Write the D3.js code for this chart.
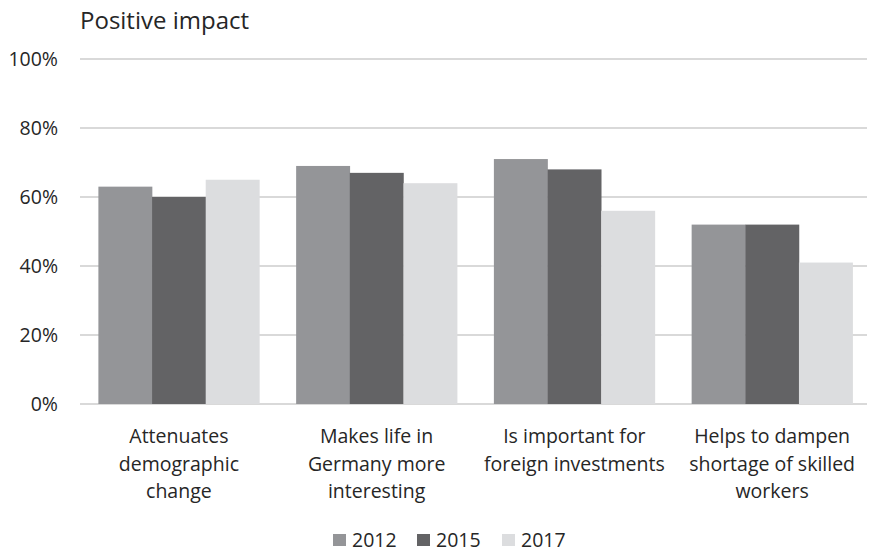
<!DOCTYPE html>
<html><head><meta charset="utf-8">
<script src="https://cdn.jsdelivr.net/npm/d3@7"></script>
<style>body{margin:0;background:#fff}svg text{font-family:"Open Sans",sans-serif;fill:#262626}</style>
</head><body><svg id="c" width="870" height="552"></svg>
<script>
const categories = [
  ["Attenuates","demographic","change"],
  ["Makes life in","Germany more","interesting"],
  ["Is important for","foreign investments"],
  ["Helps to dampen","shortage of skilled","workers"]
];
const catKeys = ["c1","c2","c3","c4"];
const seriesNames = ["2012","2015","2017"];
const values2012 = [63, 69, 71, 52];
const values2015 = [60, 67, 68, 52];
const values2017 = [65, 64, 56, 41];
const colors = ["#949598","#636365","#dcdddf"];
const yTicks = [0,20,40,60,80,100];
const title = "Positive impact";

const series = [values2012, values2015, values2017];
const svg = d3.select("#c");
const x0 = d3.scaleBand().domain(catKeys).range([80, 871]).paddingInner(0.186).paddingOuter(0.093);
const x1 = d3.scaleBand().domain(seriesNames).range([0, x0.bandwidth()]).padding(0);
const y = d3.scaleLinear().domain([0,100]).range([404, 59]);

// gridlines
svg.append("g").selectAll("line").data(yTicks).join("line")
  .attr("x1",80).attr("x2",867).attr("y1",d=>y(d)).attr("y2",d=>y(d))
  .attr("stroke","#d9d9d9").attr("stroke-width",2);

// y labels
const yAxis = d3.axisLeft(y).tickValues(yTicks).tickFormat(d=>d+"%").tickSize(0).tickPadding(0);
const ga = svg.append("g").attr("transform","translate(58,0)").call(yAxis);
ga.select(".domain").remove();
ga.selectAll("text").attr("font-size",19.5).attr("fill","#262626").style("font-family","'Open Sans',sans-serif");

// bars
catKeys.forEach((k,ci)=>{
  const g = svg.append("g").attr("transform",`translate(${x0(k)},0)`);
  g.selectAll("rect").data(seriesNames.map((s,si)=>({s, v: series[si][ci], c: colors[si]}))).join("rect")
    .attr("x",d=>x1(d.s)).attr("width",x1.bandwidth()+0.3)
    .attr("y",d=>y(d.v)).attr("height",d=>y(0)-y(d.v)).attr("fill",d=>d.c);
});

// category labels
catKeys.forEach((k,ci)=>{
  const cx = x0(k)+x0.bandwidth()/2;
  const t = svg.append("text").attr("text-anchor","middle").attr("font-size",19.5);
  categories[ci].forEach((line,li)=>{
    t.append("tspan").attr("x", cx).attr("y", 443+li*27.5).text(line);
  });
});

// title
svg.append("text").attr("x",80).attr("y",29).attr("font-size",24).text(title);

// legend
const lx = [333, 417, 502];
seriesNames.forEach((s,i)=>{
  svg.append("rect").attr("x",lx[i]).attr("y",534).attr("width",13).attr("height",12).attr("fill",colors[i]);
  svg.append("text").attr("x",lx[i]+19).attr("y",547).attr("font-size",19.5).text(s);
});
</script></body></html>
